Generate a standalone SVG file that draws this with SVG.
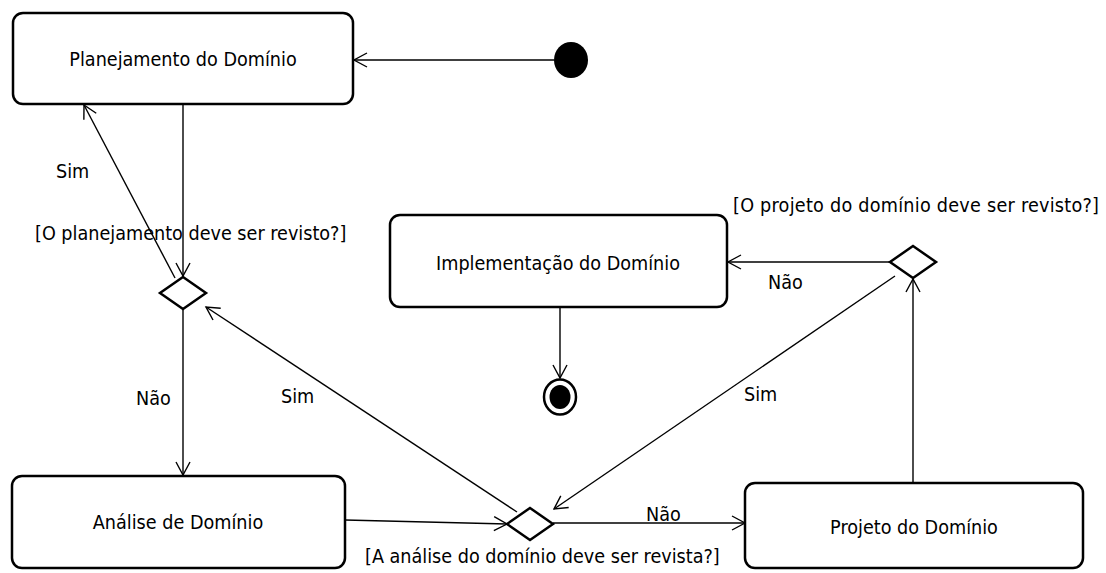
<svg xmlns="http://www.w3.org/2000/svg" width="1106" height="573" viewBox="0 0 1106 573">
  <style>
    .state { fill: #ffffff; stroke: #000000; stroke-width: 2.5; }
    .decision { fill: #ffffff; stroke: #000000; stroke-width: 2.5; }
    .flow { fill: none; stroke: #000000; stroke-width: 1.4; marker-end: url(#open); }
    .label { font-family: "DejaVu Sans Condensed", "DejaVu Sans", sans-serif; font-stretch: condensed; font-size: 19.6px; fill: #000000; }
    .mid { text-anchor: middle; }
  </style>
  <defs>
    <marker id="open" markerUnits="userSpaceOnUse" markerWidth="20" markerHeight="20" refX="14" refY="8" orient="auto" overflow="visible">
      <path d="M1,1 L14,8 L1,15" fill="none" stroke="#000000" stroke-width="1.4"/>
    </marker>
  </defs>

  <rect width="1106" height="573" fill="#ffffff"/>

  <!-- connectors -->
  <g id="connectors">
    <line class="flow" x1="554" y1="60" x2="354" y2="60"/>
    <line class="flow" x1="183" y1="105" x2="183" y2="276"/>
    <line class="flow" x1="175" y1="278" x2="84" y2="105"/>
    <line class="flow" x1="183" y1="309" x2="183" y2="475"/>
    <line class="flow" x1="517" y1="512" x2="206" y2="307"/>
    <path class="flow" d="M345,520 L507,524"/>
    <line class="flow" x1="553" y1="523" x2="745" y2="523"/>
    <line class="flow" x1="913" y1="483" x2="913" y2="279"/>
    <line class="flow" x1="890" y1="262" x2="728" y2="262"/>
    <line class="flow" x1="560" y1="308" x2="560" y2="378"/>
    <line class="flow" x1="895" y1="276" x2="554" y2="509"/>

    <text class="label" x="56" y="178">Sim</text>
    <text class="label" x="35" y="240">[O planejamento deve ser revisto?]</text>
    <text class="label" x="136" y="405">Não</text>
    <text class="label" x="281" y="403">Sim</text>
    <text class="label" x="646" y="521">Não</text>
    <text class="label" x="365" y="563">[A análise do domínio deve ser revista?]</text>
    <text class="label" x="768" y="289">Não</text>
    <text class="label" x="744" y="401">Sim</text>
    <text class="label" x="733" y="212" textLength="366" lengthAdjust="spacing">[O projeto do domínio deve ser revisto?]</text>
  </g>

  <!-- start -->
  <g id="start">
    <ellipse cx="571" cy="60" rx="17" ry="18" fill="#000000"/>
  </g>

  <g id="planejamento">
    <rect class="state" x="13" y="13" width="340" height="91" rx="10"/>
    <text class="label mid" x="183" y="66">Planejamento do Domínio</text>
  </g>

  <g id="decisao-planejamento">
    <polygon class="decision" points="183,277 206,293 183,309 160,293"/>
  </g>

  <g id="analise">
    <rect class="state" x="12" y="476" width="333" height="92" rx="10"/>
    <text class="label mid" x="178" y="529">Análise de Domínio</text>
  </g>

  <g id="decisao-analise">
    <polygon class="decision" points="530,508 553,524 530,540 507,524"/>
  </g>

  <g id="projeto">
    <rect class="state" x="745" y="483" width="338" height="85" rx="10"/>
    <text class="label mid" x="914" y="534">Projeto do Domínio</text>
  </g>

  <g id="decisao-projeto">
    <polygon class="decision" points="913,246 936,262 913,278 890,262"/>
  </g>

  <g id="implementacao">
    <rect class="state" x="390" y="215" width="337" height="92" rx="10"/>
    <text class="label mid" x="558" y="270">Implementação do Domínio</text>
  </g>

  <!-- final -->
  <g id="final">
    <ellipse cx="560" cy="397" rx="16" ry="17.5" fill="#ffffff" stroke="#000000" stroke-width="2.5"/>
    <ellipse cx="560" cy="397" rx="10.5" ry="12" fill="#000000"/>
  </g>
</svg>
